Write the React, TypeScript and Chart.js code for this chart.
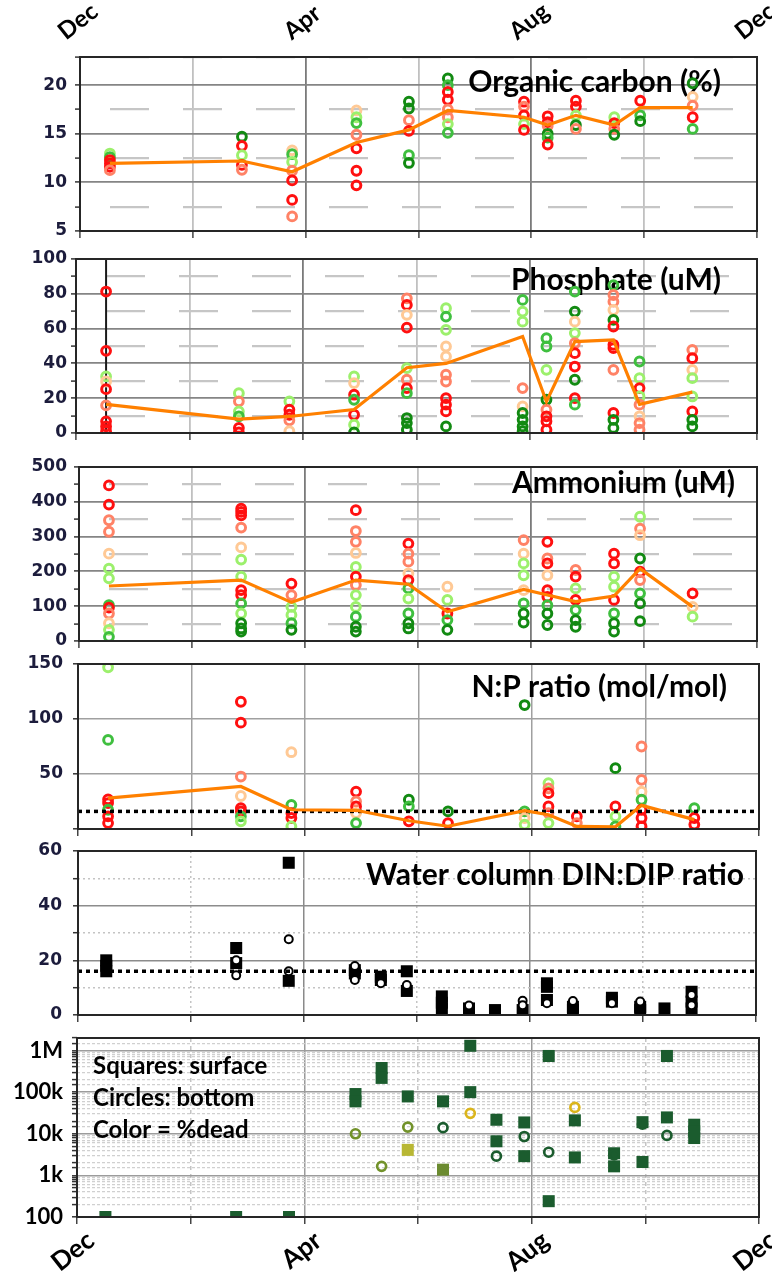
import React, { useEffect, useRef } from 'react';
import { Chart, registerables } from 'chart.js';

Chart.register(...registerables);

// ---------------- labels ----------------
const monthTickLabels: Record<number, string> = { 0: 'Dec', 4: 'Apr', 8: 'Aug', 12: 'Dec' };
const logTickLabels: Record<number, string> = { 2: '100', 3: '1k', 4: '10k', 5: '100k', 6: '1M' };
const panelTitles = ['Organic carbon (%)', 'Phosphate (uM)', 'Ammonium (uM)', 'N:P ratio (mol/mol)', 'Water column DIN:DIP ratio'];
const legendLines = ['Squares: surface', 'Circles: bottom', 'Color = %dead'];

// ---------------- sediment data (x = months after 1 Dec) ----------------
const sedimentDates = [0.53, 2.87, 3.76, 4.9, 5.83, 6.52, 7.87, 8.29, 8.79, 9.47, 9.93, 10.86];
// colour classes: 0 dark green, 1 green, 2 light green, 3 peach, 4 salmon, 5 red
const sedimentPalette = ['#128a12', '#3fbf3f', '#9cf06c', '#ffc995', '#ff8266', '#ff1010'];

const ocValues = [
  [12.97, 12.6, 12.3, 11.95, 11.6, 11.26],
  [14.7, 13.76, 12.8, 11.8, 11.3],
  [13.3, 12.9, 12.1, 11.2, 10.2, 8.2, 6.5],
  [17.4, 16.7, 16.1, 14.9, 13.5, 11.2, 9.7],
  [18.3, 17.6, 16.4, 15.3, 12.8, 12.0],
  [20.7, 20.0, 19.3, 18.5, 17.5, 16.7, 16.0, 15.1],
  [18.3, 17.8, 16.9, 16.0, 15.4],
  [16.8, 16.2, 15.8, 15.0, 14.6, 13.9],
  [18.4, 17.8, 16.9, 15.9, 15.5],
  [16.7, 16.1, 15.5, 14.9],
  [18.4, 16.9, 16.3],
  [20.2, 18.8, 17.9, 16.7, 15.5],
];
const ocClasses = [
  [2, 1, 5, 5, 5, 4],
  [0, 5, 2, 5, 4],
  [3, 1, 2, 4, 5, 5, 4],
  [3, 2, 1, 4, 5, 5, 5],
  [0, 0, 4, 5, 1, 0],
  [0, 1, 5, 5, 4, 4, 2, 1],
  [5, 4, 5, 2, 5],
  [5, 5, 4, 0, 1, 5],
  [5, 5, 2, 0, 4],
  [2, 5, 4, 0],
  [5, 1, 0],
  [0, 3, 4, 5, 1],
];
const ocMean = [11.95, 12.2, 11.1, 14.1, 15.4, 17.4, 16.7, 15.9, 16.9, 15.9, 17.7, 17.7];

const po4Values = [
  [81.3, 47.2, 32.5, 29.6, 25.2, 15.9, 6.7, 3.8, 1],
  [22.9, 18.2, 12.4, 9.6, 2.9, 0.4],
  [18.2, 13.4, 10.5, 7.3, 1],
  [32.5, 28.7, 22, 19.1, 10.5, 4.8, 0.4],
  [77.4, 73.6, 67.9, 60.6, 37.3, 30.6, 25.8, 22.9, 8.6, 5.7, 1.9],
  [71.7, 66.9, 59.3, 49.7, 44, 33.5, 29.6, 20, 16.3, 12.4, 3.8],
  [76.5, 69.8, 64, 25.8, 15.3, 11.5, 7.6, 3.8, 1],
  [54.5, 49.7, 36.3, 19.1, 13.4, 9.6, 6.7, 1.9],
  [81.3, 69.8, 64, 57.4, 51.6, 45.9, 38.2, 30.6, 20, 16.3],
  [85, 79.3, 75.5, 70.7, 65, 61.2, 50.7, 48.8, 36.3, 11.5, 7.6, 2.9],
  [41.1, 31.5, 25.8, 21, 16.3, 9.6, 5.7, 1.9],
  [47.8, 43, 36.3, 31.5, 21, 12.4, 7.6, 3.8],
];
const po4Classes = [
  [5, 5, 2, 3, 5, 4, 5, 5, 5],
  [2, 4, 2, 1, 5, 5],
  [2, 5, 5, 4, 3],
  [2, 3, 5, 1, 5, 2, 0],
  [4, 5, 3, 5, 2, 4, 5, 1, 0, 0, 0],
  [2, 1, 2, 3, 3, 4, 4, 5, 5, 5, 0],
  [1, 2, 2, 4, 3, 0, 0, 0, 0],
  [1, 1, 2, 0, 4, 5, 5, 5],
  [1, 0, 3, 2, 4, 5, 5, 0, 5, 1],
  [1, 4, 4, 3, 0, 5, 5, 5, 4, 5, 0, 0],
  [1, 2, 5, 2, 4, 3, 4, 4],
  [4, 5, 3, 2, 2, 5, 0, 0],
];
const po4Mean = [16.5, 8, 9.5, 13.5, 37.5, 40, 55.5, 18, 52.5, 53.5, 16.5, 23.5];
const po4MarkerRange = [0, 100];

const nh4Values = [
  [447, 392, 347, 314, 251, 208, 180, 103, 96, 79, 51, 32, 12],
  [380, 371, 361, 326, 269, 234, 185, 146, 132, 108, 79, 51, 36, 27],
  [165, 132, 98, 75, 51, 32],
  [376, 316, 285, 253, 213, 185, 161, 132, 98, 70, 41, 27],
  [280, 251, 228, 194, 175, 151, 122, 79, 51, 36],
  [156, 118, 79, 60, 32],
  [290, 251, 223, 189, 146, 108, 79, 53],
  [285, 237, 223, 189, 146, 127, 103, 79, 46],
  [204, 185, 151, 118, 89, 60, 41],
  [251, 223, 185, 156, 118, 79, 51, 27],
  [357, 323, 304, 237, 199, 175, 137, 108, 57],
  [137, 98, 70],
];
const nh4Classes = [
  [5, 5, 4, 4, 3, 2, 2, 1, 5, 4, 3, 2, 1],
  [5, 5, 5, 4, 3, 2, 2, 5, 5, 1, 2, 0, 0, 0],
  [5, 4, 2, 2, 1, 0],
  [5, 4, 4, 3, 2, 5, 4, 2, 2, 1, 0, 0],
  [5, 4, 4, 3, 5, 1, 2, 1, 0, 0],
  [3, 2, 5, 1, 0],
  [4, 3, 2, 2, 3, 1, 0, 0],
  [5, 4, 5, 3, 5, 5, 1, 0, 0],
  [4, 5, 2, 5, 1, 0, 0],
  [5, 5, 2, 2, 5, 1, 0, 0],
  [2, 4, 3, 0, 5, 4, 1, 0, 0],
  [5, 3, 2],
];
const nh4Mean = [158, 175, 111, 175, 163, 84, 148, 132, 113, 129, 208, 98];

const npValues = [
  [147, 81, 27, 23.6, 17.5, 11.5, 5.4],
  [115.7, 96.7, 47.7, 30, 19, 16, 11.5, 7],
  [69.8, 22, 14.5, 10, 2.4],
  [34, 25, 20.5, 14.5, 5.4],
  [26.6, 20.5, 7],
  [16, 5.4],
  [112.7, 16, 10, 4],
  [41.7, 37, 32.6, 20.5, 14.5, 5.4],
  [11.5, 5.4],
  [55.3, 20.5, 11.5, 2.4],
  [75, 44.7, 34, 26.6, 17.5, 10, 2.4],
  [19, 10, 4],
];
const npClasses = [
  [2, 1, 5, 5, 1, 5, 5],
  [5, 5, 4, 3, 5, 5, 1, 2],
  [3, 1, 5, 5, 2],
  [5, 4, 5, 3, 1],
  [0, 1, 5],
  [0, 5],
  [0, 1, 3, 2],
  [2, 4, 5, 5, 4, 2],
  [5, 4],
  [0, 5, 2, 1],
  [4, 4, 3, 1, 5, 5, 5],
  [1, 5, 5],
];
const npMean = [28, 38.7, 17.5, 17, 7.5, 2.5, 16.6, 13, 2.4, 2, 21.5, 8.5];
const redfieldRatio = 16;

// ---------------- water column data ----------------
const wcDates = [0.5, 2.8, 3.73, 4.9, 5.36, 5.82, 6.44, 6.92, 7.38, 7.87, 8.3, 8.76, 9.45, 9.95, 10.38, 10.86];
const dinDipSurface = [
  [20, 18, 16], [24.5, 19], [55.7, 12.5], [16.4, 15.2], [14, 12.8], [16, 8.8], [6.8, 4.5, 2.4], [2.4, 1.5],
  [1.8], [1.8], [11.6, 10.3, 5.5], [3, 1.8], [6.3, 4.9], [3, 1.8], [2.4], [8.5, 4.9, 2.4],
];
const dinDipBottom = [
  [], [20, 14.5], [27.7, 16], [17.9, 12.8], [11.6], [11], [], [3.5],
  [], [5.2, 3.6], [4.3], [5.1], [4.3], [4.9], [], [7.3, 3.6],
];

// colour classes: 0 dark green, 1 olive, 2 yellow, 3 yellow-green, 4 olive square
const cellPalette = ['#1b5c2e', '#72922a', '#dbb51c', '#b8b734', '#6b8b30'];
const cellsSurface = [
  [100], [100], [100], [90000, 60000], [380000, 220000], [79000, 4100], [60000, 1370], [1300000, 100000],
  [21700, 6600], [18700, 2900], [740000, 240], [21000, 2700], [3400, 1650], [19000, 2100], [740000, 24700], [16500, 11400, 7900],
];
const cellsSurfaceClasses = [
  [0], [0], [0], [0, 0], [0, 0], [0, 3], [0, 4], [0, 0],
  [0, 0], [0, 0], [0, 0], [0, 0], [0, 0], [0, 0], [0, 0], [0, 0, 0],
];
const cellsBottom = [
  [], [], [], [10000], [1650], [14500], [14000], [31000],
  [2900], [8600], [3600], [43000], [3100], [17000], [9100], [],
];
const cellsBottomClasses = [
  [], [], [], [1], [1], [1], [0], [2],
  [0], [0], [0], [2], [0], [0], [0], [],
];

// ---------------- helpers ----------------
const W = 772;
const TICK_FONT = { family: "'DejaVu Sans', sans-serif", size: 17, weight: 'bold' as const };
const TICK_COLOR = '#1c1c3c';
const TOP_LABEL_FONT = { family: "Lato, 'Open Sans', sans-serif", size: 24, weight: 'bold' as const };
const BOTTOM_LABEL_FONT = { family: "Lato, 'Open Sans', sans-serif", size: 26, weight: 'bold' as const };

function scatterPoints(dates: number[], values: number[][]) {
  const out: { x: number; y: number }[] = [];
  values.forEach((col, i) => col.forEach((v) => out.push({ x: dates[i], y: v })));
  return out;
}
function pointColors(classes: number[][], palette: string[]) {
  const out: string[] = [];
  classes.forEach((col) => col.forEach((c) => out.push(palette[c])));
  return out;
}
function linePoints(dates: number[], vals: number[]) {
  return vals.map((v, i) => ({ x: dates[i], y: v }));
}
const isMajorMonth = (v: number) => v === 4 || v === 8;
const monthLabel = (v: number) => monthTickLabels[v] ?? '';

type TextItem = { text: string; x: number; y: number; align: CanvasTextAlign; size: number };

function decor(texts: TextItem[]) {
  return {
    id: 'decor',
    beforeDatasetsDraw(chart: any) {
      const ctx = chart.ctx;
      ctx.save();
      ctx.fillStyle = '#000';
      ctx.textBaseline = 'middle';
      for (const t of texts) {
        ctx.font = `bold ${t.size}px Lato, 'Open Sans', sans-serif`;
        ctx.textAlign = t.align;
        ctx.fillText(t.text, t.x, t.y);
      }
      ctx.restore();
    },
    afterDatasetsDraw(chart: any) {
      const { left, top, right, bottom } = chart.chartArea;
      const ctx = chart.ctx;
      ctx.save();
      ctx.strokeStyle = '#262626';
      ctx.lineWidth = 2;
      ctx.strokeRect(left, top, right - left, bottom - top);
      ctx.restore();
    },
  };
}

function linearY(o: {
  min: number; max: number; step: number; pad: number;
  isMajor: (v: number) => boolean; label: (v: number) => string;
  major: string; minor: string; minorDash: number[]; majorWidth: number; minorWidth: number; dashOffset?: number;
}) {
  return {
    type: 'linear', position: 'left', min: o.min, max: o.max,
    ticks: { stepSize: o.step, autoSkip: false, padding: o.pad, color: TICK_COLOR, font: TICK_FONT, callback: (v: number) => o.label(v) },
    grid: {
      color: (c: any) => (c.tick && o.isMajor(c.tick.value) ? o.major : o.minor),
      lineWidth: (c: any) => (c.tick && o.isMajor(c.tick.value) ? o.majorWidth : o.minorWidth),
      tickLength: 5, tickColor: '#333', tickWidth: 1.5,
    },
    border: { display: false, dash: (c: any) => (c.tick && !o.isMajor(c.tick.value) ? o.minorDash : []), dashOffset: o.dashOffset ?? 0 },
  };
}

interface PanelSpec {
  top: number; height: number; left: number; right: number; areaTop: number; areaBottom: number;
  xAxisHeight: number; topAxis?: boolean; bottomLabels?: boolean;
  y: any; xMajor: string; xMinor: string; xMinorDash: number[]; xWidth: number;
  datasets: any[]; texts: TextItem[];
}

function buildConfig(p: PanelSpec): any {
  const scales: any = {
    x: {
      type: 'linear', position: 'bottom', min: 0, max: 12,
      ticks: {
        stepSize: 2, autoSkip: false, display: !!p.bottomLabels, minRotation: 38, maxRotation: 38,
        labelOffset: 14, padding: 1, color: '#000', font: BOTTOM_LABEL_FONT, callback: (v: number) => monthLabel(v),
      },
      grid: {
        color: (c: any) => (c.tick && isMajorMonth(c.tick.value) ? p.xMajor : p.xMinor),
        lineWidth: p.xWidth, tickLength: 7, tickColor: '#444', tickWidth: 1.5,
      },
      border: { display: false, dash: (c: any) => (c.tick && !isMajorMonth(c.tick.value) ? p.xMinorDash : []) },
      afterFit: (s: any) => { s.height = p.xAxisHeight; s.paddingLeft = 0; s.paddingRight = 0; },
    },
    y: { ...p.y, afterFit: (s: any) => { s.width = p.left; s.paddingTop = 0; s.paddingBottom = 0; } },
  };
  const topH = p.areaTop - p.top;
  if (p.topAxis) {
    scales.xt = {
      type: 'linear', position: 'top', min: 0, max: 12,
      ticks: {
        stepSize: 2, autoSkip: false, minRotation: 38, maxRotation: 38, labelOffset: -1, padding: 11,
        color: '#000', font: TOP_LABEL_FONT, callback: (v: number) => monthLabel(v),
      },
      grid: { drawOnChartArea: false, drawTicks: false },
      border: { display: false },
      afterFit: (s: any) => { s.height = topH; s.paddingLeft = 0; s.paddingRight = 0; },
    };
  }
  return {
    type: 'scatter',
    data: { datasets: p.datasets.map((d) => ({ xAxisID: 'x', yAxisID: 'y', ...d })) },
    options: {
      responsive: false, maintainAspectRatio: false, animation: false, devicePixelRatio: 1, events: [],
      layout: {
        padding: {
          left: 0, right: W - p.right,
          top: p.topAxis ? 0 : topH,
          bottom: p.top + p.height - p.areaBottom - p.xAxisHeight,
        },
      },
      plugins: { legend: { display: false }, tooltip: { enabled: false } },
      scales,
    },
    plugins: [decor(p.texts)],
  };
}

function meanDs(vals: number[]) {
  return { data: linePoints(sedimentDates, vals), showLine: true, borderColor: '#ff8000', borderWidth: 3.2, pointRadius: 0 };
}
function ringDs(values: number[][], classes: number[][]) {
  return {
    data: scatterPoints(sedimentDates, values), showLine: false, pointStyle: 'circle', pointRadius: 4.4,
    pointBorderWidth: 3, pointBorderColor: pointColors(classes, sedimentPalette), pointBackgroundColor: 'rgba(0,0,0,0)',
  };
}
function redfieldDs() {
  return {
    data: [{ x: 0, y: redfieldRatio }, { x: 12, y: redfieldRatio }], showLine: true, borderColor: '#000',
    borderWidth: 3.5, borderDash: [4, 4], pointRadius: 0,
  };
}

const sedGrid = { xMajor: '#7a7a7a', xMinor: '#c0c0c0', xMinorDash: [] as number[], xWidth: 1.8 };

const PANELS: PanelSpec[] = [
  {
    top: 0, height: 245, left: 80, right: 757, areaTop: 57, areaBottom: 231, xAxisHeight: 7, topAxis: true,
    ...sedGrid,
    y: linearY({
      min: 5, max: 22.9, step: 2.5, pad: 8, isMajor: (v) => v % 5 === 0, label: (v) => (v % 5 === 0 ? String(v) : ''),
      major: '#858585', minor: '#c6c6c6', minorDash: [39, 34], majorWidth: 1.8, minorWidth: 2.2, dashOffset: 43,
    }),
    datasets: [meanDs(ocMean), ringDs(ocValues, ocClasses)],
    texts: [{ text: panelTitles[0], x: 721, y: 82, align: 'right', size: 30 }],
  },
  {
    top: 245, height: 205, left: 76, right: 757, areaTop: 259, areaBottom: 433, xAxisHeight: 7,
    ...sedGrid,
    y: linearY({
      min: 0, max: 100, step: 10, pad: 4, isMajor: (v) => v % 20 === 0, label: (v) => (v % 20 === 0 ? String(v) : ''),
      major: '#858585', minor: '#c6c6c6', minorDash: [39, 34], majorWidth: 1.8, minorWidth: 2.2, dashOffset: 43,
    }),
    datasets: [
      meanDs(po4Mean),
      ringDs(po4Values, po4Classes),
      {
        data: po4MarkerRange.map((v) => ({ x: sedimentDates[0], y: v })), showLine: true, borderColor: '#1a1a1a',
        borderWidth: 2, pointRadius: 0,
      },
    ],
    texts: [{ text: panelTitles[1], x: 721, y: 280 - 245, align: 'right', size: 30 }],
  },
  {
    top: 450, height: 202, left: 79, right: 757, areaTop: 467, areaBottom: 641, xAxisHeight: 7,
    ...sedGrid,
    y: linearY({
      min: 0, max: 500, step: 50, pad: 7, isMajor: (v) => v % 100 === 0, label: (v) => (v % 100 === 0 ? String(v) : ''),
      major: '#858585', minor: '#c6c6c6', minorDash: [39, 34], majorWidth: 1.8, minorWidth: 2.2, dashOffset: 43,
    }),
    datasets: [meanDs(nh4Mean), ringDs(nh4Values, nh4Classes)],
    texts: [{ text: panelTitles[2], x: 735, y: 483 - 450, align: 'right', size: 30 }],
  },
  {
    top: 652, height: 186, left: 78, right: 759, areaTop: 664, areaBottom: 829, xAxisHeight: 7,
    xMajor: '#a0a0a0', xMinor: '#a0a0a0', xMinorDash: [], xWidth: 1.5,
    y: linearY({
      min: 0, max: 150, step: 50, pad: 10, isMajor: () => true, label: (v) => (v === 0 ? '' : String(v)),
      major: '#a0a0a0', minor: '#a0a0a0', minorDash: [], majorWidth: 1.6, minorWidth: 1.6,
    }),
    datasets: [meanDs(npMean), redfieldDs(), ringDs(npValues, npClasses)],
    texts: [{ text: panelTitles[3], x: 727, y: 687 - 652, align: 'right', size: 30 }],
  },
  {
    top: 838, height: 187, left: 78, right: 756, areaTop: 851, areaBottom: 1015, xAxisHeight: 7,
    xMajor: '#8a8a8a', xMinor: '#c4c4c4', xMinorDash: [2, 3], xWidth: 1.5,
    y: linearY({
      min: 0, max: 60, step: 10, pad: 11, isMajor: (v) => v % 20 === 0, label: (v) => (v % 20 === 0 ? String(v) : ''),
      major: '#8c8c8c', minor: '#c4c4c4', minorDash: [2, 3], majorWidth: 1.6, minorWidth: 1.4,
    }),
    datasets: [
      redfieldDs(),
      {
        data: scatterPoints(wcDates, dinDipBottom), pointStyle: 'circle', pointRadius: 4, pointBorderWidth: 2,
        pointBorderColor: '#000', pointBackgroundColor: '#fff',
      },
      {
        data: scatterPoints(wcDates, dinDipSurface), pointStyle: 'rect', pointRadius: 8.5, pointBorderWidth: 0,
        pointBackgroundColor: '#000',
      },
    ],
    texts: [{ text: panelTitles[4], x: 744, y: 875 - 838, align: 'right', size: 30 }],
  },
  {
    top: 1025, height: 247, left: 77, right: 759, areaTop: 1038, areaBottom: 1217, xAxisHeight: 55, bottomLabels: true,
    xMajor: '#9a9a9a', xMinor: '#c4c4c4', xMinorDash: [4, 4], xWidth: 1.5,
    y: {
      type: 'logarithmic', position: 'left', min: 100, max: 2000000,
      ticks: {
        autoSkip: false, padding: 9, color: '#000', font: { family: "Lato, 'Open Sans', sans-serif", size: 22, weight: 'bold' },
        callback: (v: number) => {
          const l = Math.log10(v);
          const r = Math.round(l);
          return Math.abs(l - r) < 1e-6 ? logTickLabels[r] ?? '' : '';
        },
      },
      grid: {
        color: (c: any) => {
          if (!c.tick) return '#d0d0d0';
          const l = Math.log10(c.tick.value);
          return Math.abs(l - Math.round(l)) < 1e-6 ? '#9c9c9c' : '#d0d0d0';
        },
        lineWidth: (c: any) => {
          if (!c.tick) return 1;
          const l = Math.log10(c.tick.value);
          return Math.abs(l - Math.round(l)) < 1e-6 ? 1.6 : 1.2;
        },
        tickLength: 5, tickColor: '#333', tickWidth: 1.5,
      },
      border: {
        display: false,
        dash: (c: any) => {
          if (!c.tick) return [];
          const l = Math.log10(c.tick.value);
          return Math.abs(l - Math.round(l)) < 1e-6 ? [] : [3, 2];
        },
      },
    },
    datasets: [
      {
        data: scatterPoints(wcDates, cellsBottom), pointStyle: 'circle', pointRadius: 4.5, pointBorderWidth: 2.7,
        pointBorderColor: pointColors(cellsBottomClasses, cellPalette), pointBackgroundColor: 'rgba(0,0,0,0)',
      },
      {
        data: scatterPoints(wcDates, cellsSurface), pointStyle: 'rect', pointRadius: 8.5, pointBorderWidth: 0,
        pointBackgroundColor: pointColors(cellsSurfaceClasses, cellPalette),
      },
    ],
    texts: legendLines.map((t, i) => ({ text: t, x: 93, y: 1066 - 1025 + i * 32, align: 'left' as CanvasTextAlign, size: 24 })),
  },
];

export default function App() {
  const refs = useRef<(HTMLCanvasElement | null)[]>([]);
  useEffect(() => {
    const charts = PANELS.map((p, i) => new Chart(refs.current[i] as HTMLCanvasElement, buildConfig(p)));
    return () => charts.forEach((c) => c.destroy());
  }, []);
  return (
    <div style={{ position: 'absolute', left: 0, top: 0, width: W, height: 1272, background: '#fff', overflow: 'hidden' }}>
      {PANELS.map((p, i) => (
        <canvas
          key={i}
          ref={(el) => { refs.current[i] = el; }}
          width={W}
          height={p.height}
          style={{ position: 'absolute', left: 0, top: p.top, width: W, height: p.height, display: 'block' }}
        />
      ))}
    </div>
  );
}
